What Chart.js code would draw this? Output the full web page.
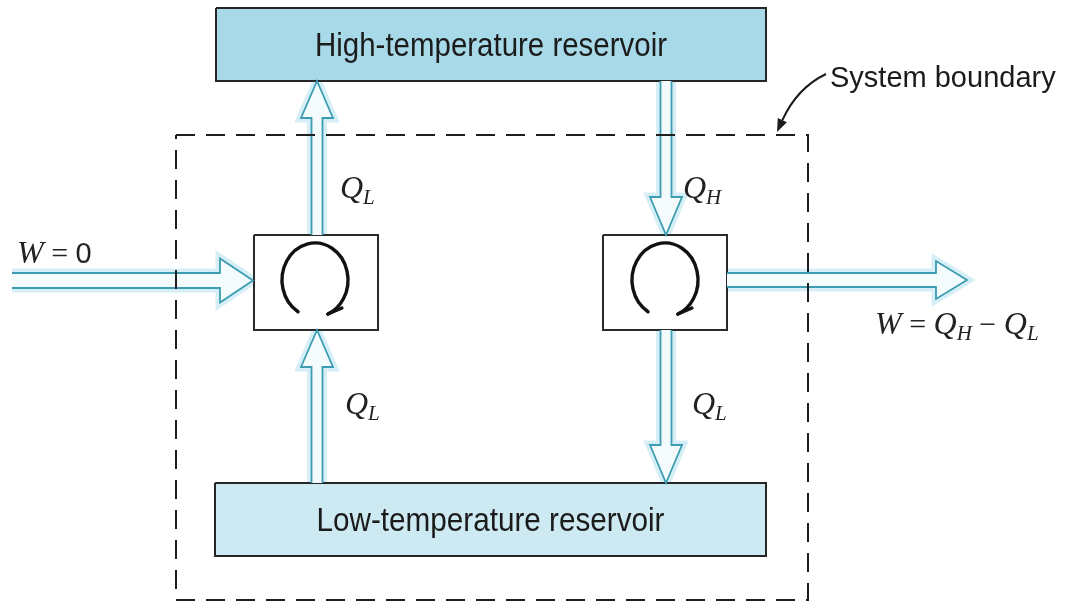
<!DOCTYPE html>
<html><head><meta charset="utf-8">
<script src="https://cdn.jsdelivr.net/npm/chart.js@4/dist/chart.umd.min.js"></script>
<style>html,body{margin:0;padding:0;background:#fff;overflow:hidden}#wrap{width:1068px;height:608px}</style>
</head><body><div id="wrap"><canvas id="c" width="1068" height="608"></canvas></div>
<script>
// ---- diagram data (in picture units: x 0..1068, y 0..608 downward) ----
const reservoirLabels = ["High-temperature reservoir", "Low-temperature reservoir"];
const reservoirLeft   = [216, 215];
const reservoirRight  = [766, 766];
const reservoirTop    = [8, 483];
const reservoirBottom = [81, 556];
const engineLeft   = [254, 603];
const engineRight  = [378, 727];
const engineTop    = [235, 235];
const engineBottom = [330, 330];
const boundaryX = [176, 808, 808, 176, 176];
const boundaryY = [135, 135, 600, 600, 135];
const flowDir    = ["v", "v", "v", "v", "h", "h"];
const flowCenter = [317, 317, 666, 666, 280.5, 280];
const flowTail   = [235, 483, 81, 330, 12, 727];
const flowTip    = [81, 330, 235, 483, 253, 967];
const flowShaft  = [5.5, 5.5, 5.5, 5.5, 7.5, 7];
const flowHead   = [16, 16, 16, 16, 22, 19];
const flowHeadLen= [37, 37, 38, 38, 33, 31];
const cycleX = [315, 665];
const cycleY = [280, 280];
const labelText = [
  [["Q","i"],["L","s"]],
  [["Q","i"],["H","s"]],
  [["Q","i"],["L","s"]],
  [["Q","i"],["L","s"]],
  [["W","i"],[" = ","r"],["0","n"]],
  [["W","i"],[" = ","r"],["Q","i"],["H","s"],[" \u2212 ","r"],["Q","i"],["L","s"]]
];
const labelX = [340, 683, 345, 692, 17, 875];
const labelY = [198, 198, 414, 414, 263, 334];
const calloutText = "System boundary";
const calloutX = [830, 826, 797, 777];
const calloutY = [87, 74, 88, 132];

// ---- build datasets ----
function rect(l, r, t, b) { return [{x:l,y:t},{x:r,y:t},{x:r,y:b},{x:l,y:b},{x:l,y:t}]; }
function arrow(i) {
  const c = flowCenter[i], a = flowTail[i], z = flowTip[i];
  const s = flowShaft[i], h = flowHead[i];
  const sg = z > a ? 1 : -1, base = z - sg * flowHeadLen[i];
  const along = [a, base, base, z, base, base, a];
  const across = [c - s, c - s, c - h, c, c + h, c + s, c + s];
  return along.map((v, k) => flowDir[i] === "v" ? {x: across[k], y: v} : {x: v, y: across[k]});
}
const datasets = [];
datasets.push({ data: boundaryX.map((x, k) => ({x, y: boundaryY[k]})), borderColor: "#1e1e1e",
  borderWidth: 2, borderDash: [19, 11], order: 0 });
for (let i = 0; i < flowTip.length; i++) {
  datasets.push({ data: arrow(i), borderColor: "#3c9db2", borderWidth: 1.8, polyFill: "#f3fbfd", order: 1 });
  datasets.push({ data: arrow(i), borderColor: "rgba(165,220,236,0.45)", borderWidth: 9, order: 3 });
}
for (let i = 0; i < reservoirLabels.length; i++) {
  datasets.push({ data: rect(reservoirLeft[i], reservoirRight[i], reservoirTop[i], reservoirBottom[i]),
    borderColor: "#262626", borderWidth: 2, polyFill: i === 0 ? "#a8d9e8" : "#cdeaf3", order: 2 });
}
for (let i = 0; i < engineLeft.length; i++) {
  datasets.push({ data: rect(engineLeft[i], engineRight[i], engineTop[i], engineBottom[i]),
    borderColor: "#2a2a2a", borderWidth: 2, polyFill: "#ffffff", order: 2 });
}
datasets.forEach(d => { d.pointRadius = 0; d.tension = 0; d.fill = false; d.clip = false; d.borderCapStyle = "butt"; d.borderJoinStyle = "miter"; });

const fonts = {
  i: ['italic 32px "Liberation Serif"', 0],
  s: ['italic 21px "Liberation Serif"', 6],
  r: ['30px "Liberation Serif"', 0],
  n: ['29px "Liberation Sans"', 0]
};

const drawPlugin = {
  id: "diagram",
  beforeDatasetDraw(chart, args) {
    const ds = chart.data.datasets[args.index];
    if (!ds.polyFill) return;
    const pts = args.meta.data;
    const ctx = chart.ctx;
    ctx.save(); ctx.beginPath();
    pts.forEach((p, k) => k ? ctx.lineTo(p.x, p.y) : ctx.moveTo(p.x, p.y));
    ctx.closePath(); ctx.fillStyle = ds.polyFill; ctx.fill(); ctx.restore();
  },
  afterDatasetsDraw(chart) {
    const ctx = chart.ctx, sx = chart.scales.x, sy = chart.scales.y;
    const X = v => sx.getPixelForValue(v), Y = v => sy.getPixelForValue(v);
    ctx.save();
    // reservoir labels
    ctx.fillStyle = "#1b1b1b"; ctx.textAlign = "center"; ctx.textBaseline = "alphabetic";
    ctx.font = '33px "Liberation Sans"';
    reservoirLabels.forEach((t, i) => {
      const cx = (reservoirLeft[i] + reservoirRight[i]) / 2;
      const cy = (reservoirTop[i] + reservoirBottom[i]) / 2 + 11;
      ctx.fillText(t, X(cx), Y(cy), i === 0 ? 352 : 348);
    });
    // cycle symbols
    ctx.strokeStyle = "#111"; ctx.lineWidth = 3.4; ctx.lineCap = "round";
    cycleX.forEach((cx, i) => {
      const px = X(cx), py = Y(cycleY[i]);
      const a0 = 121 * Math.PI / 180, a1 = (67 + 360) * Math.PI / 180;
      ctx.beginPath(); ctx.ellipse(px, py, 33, 37, 0, a0, a1, false); ctx.stroke();
      const ex = px + 33 * Math.cos(a1), ey = py + 37 * Math.sin(a1);
      ctx.beginPath(); ctx.moveTo(ex, ey); ctx.lineTo(ex + 14, ey - 6); ctx.stroke();
    });
    // math labels
    ctx.textAlign = "left"; ctx.fillStyle = "#222";
    labelText.forEach((parts, i) => {
      let x = X(labelX[i]); const y = Y(labelY[i]);
      parts.forEach(([t, f]) => {
        ctx.font = fonts[f][0];
        ctx.fillText(t, x, y + fonts[f][1]);
        x += ctx.measureText(t).width;
      });
    });
    // callout
    ctx.font = '29px "Liberation Sans"'; ctx.fillStyle = "#1b1b1b";
    ctx.fillText(calloutText, X(calloutX[0]), Y(calloutY[0]), 227);
    const p0 = [X(calloutX[1]), Y(calloutY[1])], pc = [X(calloutX[2]), Y(calloutY[2])], p1 = [X(calloutX[3]), Y(calloutY[3])];
    const ang = Math.atan2(p1[1] - pc[1], p1[0] - pc[0]);
    const bx = p1[0] - 13 * Math.cos(ang), by = p1[1] - 13 * Math.sin(ang);
    ctx.strokeStyle = "#1b1b1b"; ctx.lineWidth = 2; ctx.lineCap = "butt";
    ctx.beginPath(); ctx.moveTo(p0[0], p0[1]); ctx.quadraticCurveTo(pc[0], pc[1], bx, by); ctx.stroke();
    ctx.beginPath(); ctx.moveTo(p1[0], p1[1]);
    ctx.lineTo(bx + 5 * Math.sin(ang), by - 5 * Math.cos(ang));
    ctx.lineTo(bx - 5 * Math.sin(ang), by + 5 * Math.cos(ang));
    ctx.closePath(); ctx.fillStyle = "#1b1b1b"; ctx.fill();
    ctx.restore();
  }
};

new Chart(document.getElementById("c"), {
  type: "line",
  data: { datasets },
  options: {
    responsive: false, animation: false, events: [],
    layout: { padding: 0 },
    plugins: { legend: { display: false }, tooltip: { enabled: false } },
    scales: {
      x: { type: "linear", min: 0, max: 1068, display: false },
      y: { type: "linear", min: 0, max: 608, reverse: true, display: false }
    }
  },
  plugins: [drawPlugin]
});
</script></body></html>
